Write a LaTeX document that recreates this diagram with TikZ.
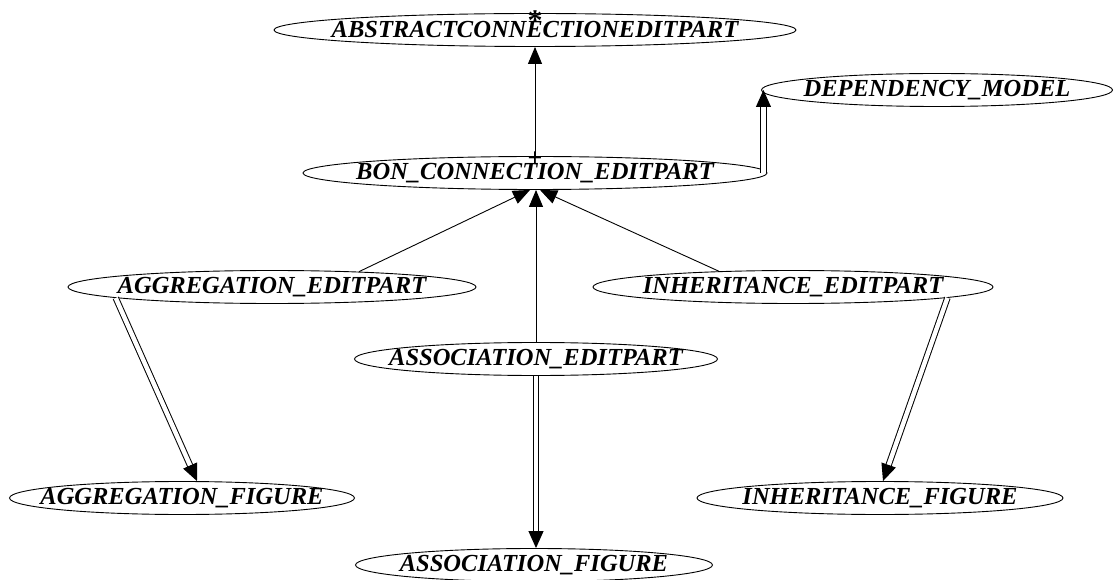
\documentclass[tikz,border=0pt]{standalone}
\usepackage{fontspec}
\setmainfont{Liberation Serif}
\usetikzlibrary{shapes.geometric,arrows.meta}

\begin{document}
\begin{tikzpicture}[x=1pt, y=-1pt,
  class/.style={ellipse, draw, line width=0.9pt, inner sep=0pt, minimum height=33pt,
    font=\fontsize{24.5}{28}\selectfont\bfseries\itshape},
  flag/.style={inner sep=0pt, font=\fontsize{26}{26}\selectfont\bfseries},
  inherit/.style={line width=0.9pt, -{Triangle[length=17pt,width=14pt]}},
  client/.style={double, double distance=4.4pt, line width=1pt,
    -{Triangle[length=17pt,width=15pt]}}]

  \newcommand\CLS[1]{\makebox[0pt]{#1}}

  \newcommand\YA{30}
  \newcommand\YB{90}
  \newcommand\YC{173}
  \newcommand\YD{287}
  \newcommand\YE{359}
  \newcommand\YF{498}
  \newcommand\YG{565}

  \useasboundingbox (0,0) rectangle (1117,580);

  % classes
  \node[class, minimum width=522] (abs) at (535,\YA) {\CLS{ABSTRACTCONNECTIONEDITPART}};
  \node[class, minimum width=351] (dep) at (937,\YB) {\CLS{DEPENDENCY\_MODEL}};
  \node[class, minimum width=464] (bon) at (535,\YC) {\CLS{BON\_CONNECTION\_EDITPART}};
  \node[class, minimum width=408] (aggEP) at (272,\YD) {\CLS{AGGREGATION\_EDITPART}};
  \node[class, minimum width=400] (inhEP) at (793,\YD) {\CLS{INHERITANCE\_EDITPART}};
  \node[class, minimum width=363] (assEP) at (536,\YE) {\CLS{ASSOCIATION\_EDITPART}};
  \node[class, minimum width=345] (aggFig) at (182,\YF) {\CLS{AGGREGATION\_FIGURE}};
  \node[class, minimum width=366] (inhFig) at (880,\YF) {\CLS{INHERITANCE\_FIGURE}};
  \node[class, minimum width=357] (assFig) at (534,\YG) {\CLS{ASSOCIATION\_FIGURE}};

  % deferred / effective flags
  \node[flag, font=\fontsize{30}{30}\selectfont\bfseries] (absFlag) at ([yshift=-8]abs.north) {*};
  \node[flag] (bonFlag) at ([yshift=-3]bon.north) {+};

  % inheritance
  \draw[inherit] (bon.north) -- (abs.south);
  \draw[inherit] (aggEP.10) -- ([xshift=-5]bon.south);
  \draw[inherit] (assEP.north) -- (assEP.north |- bon.south);
  \draw[inherit] (inhEP.168) -- ([xshift=5]bon.south);

  % client
  \draw[client] ([xshift=-4]bon.east) -- ([xshift=-4]bon.east |- dep.west);
  \draw[client] (aggEP.184) -- ([xshift=15]aggFig.north);
  \draw[client] (assEP.south) -- (assEP.south |- assFig.north);
  \draw[client] (inhEP.-4) -- ([xshift=3]inhFig.north);

\end{tikzpicture}
\end{document}
